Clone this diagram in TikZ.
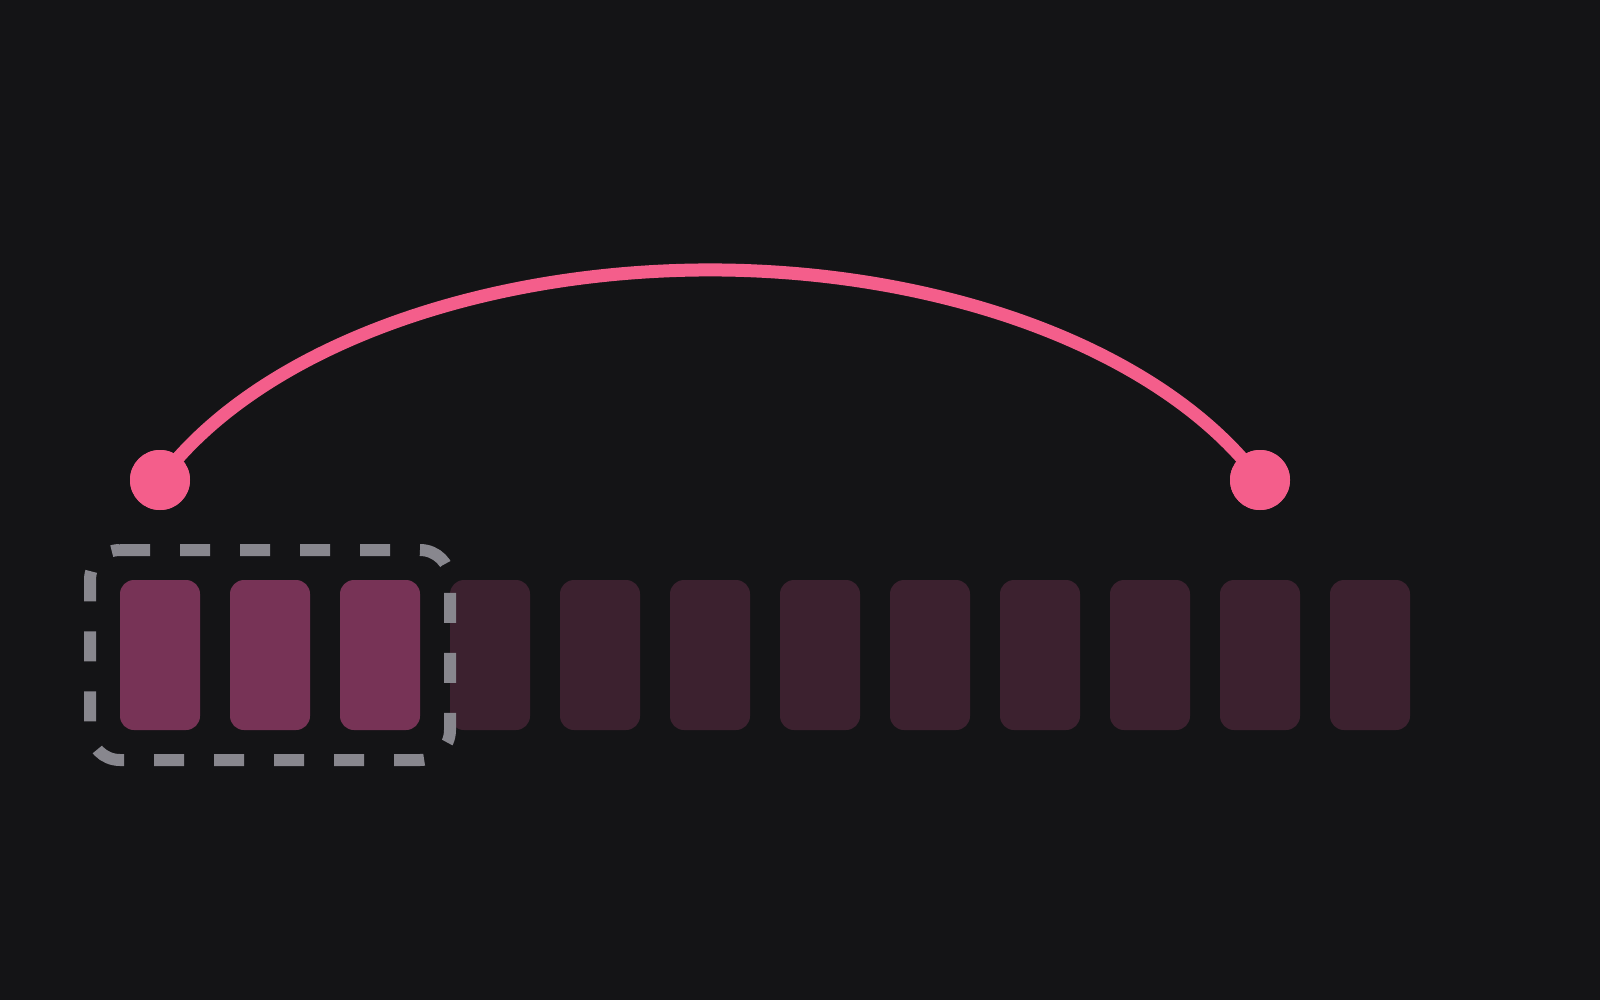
\documentclass[tikz,border=0pt]{standalone}
\definecolor{bgc}{HTML}{141416}
\definecolor{pinkc}{HTML}{F45E8B}
\definecolor{activec}{HTML}{773356}
\definecolor{idlec}{HTML}{3C212F}
\definecolor{grayc}{HTML}{88878E}
\begin{document}
\begin{tikzpicture}[x=1pt,y=1pt,
  cell/.style={rectangle,rounded corners=14pt,minimum width=80pt,minimum height=150pt,inner sep=0pt,draw=none},
  activecell/.style={cell,fill=activec},
  idlecell/.style={cell,fill=idlec},
  endpoint/.style={circle,fill=pinkc,minimum size=60pt,inner sep=0pt,draw=none},
  span/.style={draw=pinkc,line width=13pt},
  window/.style={draw=grayc,line width=12pt,dash pattern=on 30pt off 30pt}]
\fill[bgc] (0,0) rectangle (1600,-1000);
\useasboundingbox (0,0) rectangle (1600,-1000);
% cells
\foreach \i in {1,2,3}{
  \node[activecell] (c\i) at ({160+110*(\i-1)},-655) {};
}
\foreach \i in {4,...,12}{
  \node[idlecell] (c\i) at ({160+110*(\i-1)},-655) {};
}
% sliding window
\draw[window] (120,-550) -- (420,-550) arc[start angle=90,end angle=0,radius=30pt]
  -- (450,-730) arc[start angle=0,end angle=-90,radius=30pt]
  -- (120,-760) arc[start angle=-90,end angle=-180,radius=30pt]
  -- (90,-580) arc[start angle=180,end angle=90,radius=30pt] -- cycle;
% endpoints
\node[endpoint] (p1) at (160,-480) {};
\node[endpoint] (p2) at (1260,-480) {};
\draw[span] (p1.center) arc[start angle=156.42,end angle=23.58,x radius=600pt,y radius=350pt];
\node[endpoint] at (p1) {};
\node[endpoint] at (p2) {};
\end{tikzpicture}
\end{document}
